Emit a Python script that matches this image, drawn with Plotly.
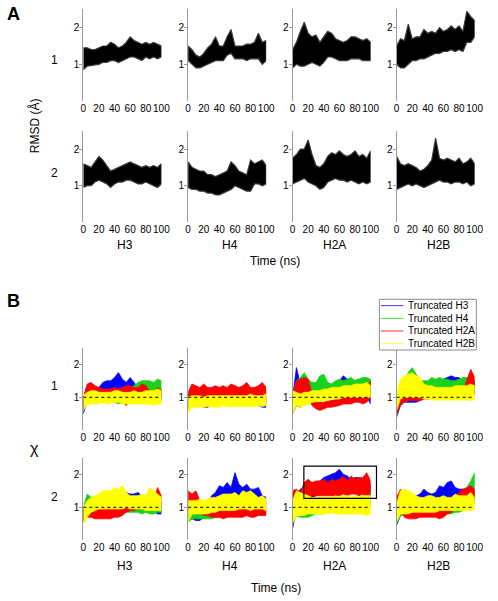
import plotly.graph_objects as go

# ---------------- data ----------------
TIME = [0, 5, 10, 15, 20, 25, 30, 35, 40, 45, 50, 55, 60, 65, 70, 75, 80, 85, 90, 95, 100]
HISTONES = ["H3", "H4", "H2A", "H2B"]
ROW_NAMES = ["1", "2"]
SERIES_NAMES = ["Truncated H3", "Truncated H4", "Truncated H2A", "Truncated H2B"]
X_TICKS = [0, 20, 40, 60, 80, 100]
Y_TICKS = [1, 2]
REF_LEVEL = 1.0
HIGHLIGHT_BOX = [14.5, 107.5, 1.27, 2.25]   # x0, x1, y0, y1 (H2A, row 2, panel B)

# Panel A : RMSD envelopes (low / high)
A1_H3_LO = [0.85, 0.95, 0.95, 0.98, 1.0, 1.05, 1.05, 1.1, 1.1, 1.05, 1.1, 1.15, 1.2, 1.2, 1.15, 1.1, 1.2, 1.15, 1.2, 1.15, 1.2]
A1_H3_HI = [1.45, 1.45, 1.4, 1.4, 1.45, 1.5, 1.5, 1.6, 1.55, 1.45, 1.5, 1.6, 1.75, 1.65, 1.6, 1.55, 1.6, 1.55, 1.6, 1.55, 1.5]
A1_H4_LO = [1.1, 1.0, 0.9, 0.9, 0.95, 1.0, 1.05, 1.1, 1.1, 1.1, 1.25, 1.3, 1.15, 1.15, 1.15, 1.1, 1.15, 1.15, 1.15, 1.0, 1.1]
A1_H4_HI = [1.5, 1.4, 1.25, 1.2, 1.3, 1.45, 1.55, 1.75, 1.5, 1.5, 1.75, 1.95, 1.5, 1.5, 1.5, 1.55, 1.55, 1.6, 1.85, 1.6, 1.65]
A1_H2A_LO = [0.9, 1.0, 0.95, 0.95, 1.0, 1.05, 1.0, 0.95, 1.05, 1.2, 1.2, 1.15, 1.1, 1.1, 1.1, 1.15, 1.15, 1.15, 1.1, 1.1, 1.1]
A1_H2A_HI = [1.4, 1.6, 1.9, 2.15, 1.85, 1.75, 1.8, 1.6, 1.75, 1.9, 1.85, 1.7, 1.65, 1.6, 1.65, 1.75, 1.75, 1.7, 1.65, 1.7, 1.6]
A1_H2B_LO = [1.0, 0.9, 0.9, 1.0, 1.1, 1.1, 1.15, 1.15, 1.2, 1.25, 1.3, 1.3, 1.35, 1.35, 1.4, 1.35, 1.4, 1.35, 1.6, 1.6, 1.75]
A1_H2B_HI = [1.5, 1.7, 1.65, 2.1, 1.7, 1.75, 1.75, 1.95, 1.85, 1.9, 1.85, 2.0, 1.9, 1.95, 2.05, 1.95, 2.05, 1.9, 2.45, 2.3, 2.2]
A2_H3_LO = [0.95, 1.0, 1.0, 1.1, 1.15, 1.1, 1.05, 0.95, 1.05, 1.1, 1.1, 1.15, 1.15, 1.1, 1.05, 1.05, 1.1, 1.05, 1.0, 0.95, 1.05]
A2_H3_HI = [1.6, 1.55, 1.5, 1.65, 1.8, 1.7, 1.55, 1.4, 1.45, 1.5, 1.55, 1.6, 1.65, 1.6, 1.55, 1.5, 1.55, 1.5, 1.55, 1.5, 1.6]
A2_H4_LO = [0.95, 0.9, 0.9, 0.85, 0.85, 0.8, 0.8, 0.75, 0.75, 0.8, 0.85, 0.9, 1.0, 0.95, 0.9, 0.85, 0.85, 1.05, 1.05, 1.0, 1.05]
A2_H4_HI = [1.65, 1.5, 1.45, 1.4, 1.4, 1.3, 1.3, 1.25, 1.3, 1.35, 1.4, 1.65, 1.55, 1.4, 1.35, 1.3, 1.7, 1.6, 1.65, 1.7, 1.55]
A2_H2A_LO = [1.05, 1.1, 1.15, 1.2, 1.1, 1.05, 1.0, 0.9, 0.95, 1.1, 1.15, 1.2, 1.15, 1.15, 1.1, 1.15, 1.1, 1.05, 1.1, 1.05, 1.1]
A2_H2A_HI = [1.75, 1.85, 2.0, 2.0, 2.25, 1.85, 1.55, 1.5, 1.6, 1.8, 1.9, 1.85, 1.95, 1.85, 1.8, 1.85, 1.95, 1.8, 1.85, 1.75, 1.95]
A2_H2B_LO = [0.9, 0.95, 1.0, 1.05, 1.0, 1.05, 1.0, 0.95, 1.0, 1.05, 1.1, 1.15, 1.1, 1.1, 1.05, 1.1, 1.1, 1.05, 1.1, 1.0, 1.05]
A2_H2B_HI = [1.8, 1.6, 1.55, 1.6, 1.55, 1.5, 1.4, 1.45, 1.55, 1.7, 2.3, 1.75, 1.7, 1.75, 1.7, 1.65, 1.75, 1.6, 1.65, 1.75, 1.6]

# Panel B : chi envelopes, row 1
B1_H3_BLUE_LO = [0.5, 0.9, 1.0, 1.05, 1.1, 1.15, 1.2, 1.2, 1.2, 1.25, 1.2, 1.15, 1.1, 1.05, 1.05, 1.0, 1.0, 1.0, 0.95, 0.95, 1.0]
B1_H3_BLUE_HI = [0.9, 1.25, 1.3, 1.3, 1.3, 1.45, 1.5, 1.5, 1.6, 1.75, 1.55, 1.45, 1.6, 1.45, 1.3, 1.25, 1.25, 1.2, 1.2, 1.2, 1.25]
B1_H3_GREEN_LO = [0.7, 0.85, 0.9, 0.85, 0.85, 0.85, 0.85, 0.9, 0.85, 0.8, 0.85, 0.9, 0.95, 1.0, 1.1, 1.15, 1.15, 1.15, 1.15, 1.1, 1.15]
B1_H3_GREEN_HI = [1.0, 1.3, 1.4, 1.2, 1.15, 1.15, 1.15, 1.2, 1.2, 1.15, 1.15, 1.2, 1.3, 1.35, 1.45, 1.5, 1.5, 1.5, 1.45, 1.55, 1.5]
B1_H3_RED_LO = [0.7, 0.95, 1.0, 1.0, 1.0, 1.05, 1.05, 1.0, 1.0, 0.95, 0.85, 0.75, 0.95, 1.0, 1.0, 1.0, 1.0, 0.9, 0.9, 0.85, 0.9]
B1_H3_RED_HI = [1.0, 1.4, 1.45, 1.35, 1.3, 1.25, 1.25, 1.25, 1.3, 1.25, 1.3, 1.35, 1.35, 1.3, 1.3, 1.4, 1.35, 1.2, 1.15, 1.3, 1.2]
B1_H3_YELLOW_LO = [0.6, 0.8, 0.8, 0.8, 0.8, 0.85, 0.8, 0.82, 0.85, 0.85, 0.8, 0.8, 0.82, 0.8, 0.8, 0.8, 0.8, 0.8, 0.75, 0.8, 0.8]
B1_H3_YELLOW_HI = [1.05, 1.15, 1.2, 1.2, 1.15, 1.15, 1.15, 1.15, 1.2, 1.2, 1.15, 1.15, 1.15, 1.2, 1.15, 1.15, 1.2, 1.2, 1.2, 1.25, 1.2]

B1_H4_BLUE_LO = [0.65, 0.75, 0.75, 0.75, 0.7, 0.7, 0.75, 0.8, 0.8, 0.8, 0.8, 0.8, 0.8, 0.8, 0.8, 0.8, 0.75, 0.75, 0.75, 0.7, 0.7]
B1_H4_BLUE_HI = [1.0, 1.1, 1.1, 1.1, 1.05, 1.0, 1.0, 1.0, 1.0, 1.05, 1.05, 1.05, 1.05, 1.05, 1.05, 1.05, 1.05, 1.1, 1.1, 1.0, 1.0]
B1_H4_GREEN_LO = [0.7, 0.85, 0.85, 0.85, 0.8, 0.8, 0.8, 0.8, 0.8, 0.8, 0.8, 0.8, 0.8, 0.8, 0.85, 0.8, 0.8, 0.8, 0.75, 0.8, 0.8]
B1_H4_GREEN_HI = [1.1, 1.4, 1.3, 1.2, 1.2, 1.2, 1.2, 1.2, 1.2, 1.2, 1.2, 1.2, 1.2, 1.2, 1.25, 1.2, 1.2, 1.25, 1.3, 1.2, 1.2]
B1_H4_RED_LO = [0.85, 0.95, 0.95, 0.95, 0.95, 0.95, 0.95, 0.95, 0.95, 0.95, 0.95, 0.95, 0.95, 0.95, 0.95, 0.95, 0.95, 0.95, 0.95, 0.95, 0.95]
B1_H4_RED_HI = [1.15, 1.4, 1.35, 1.3, 1.4, 1.3, 1.3, 1.35, 1.3, 1.35, 1.3, 1.4, 1.35, 1.3, 1.35, 1.45, 1.3, 1.3, 1.35, 1.45, 1.3]
B1_H4_YELLOW_LO = [0.55, 0.7, 0.72, 0.7, 0.7, 0.72, 0.72, 0.7, 0.7, 0.75, 0.72, 0.7, 0.72, 0.72, 0.7, 0.72, 0.72, 0.72, 0.75, 0.72, 0.75]
B1_H4_YELLOW_HI = [1.0, 1.05, 1.05, 1.05, 1.0, 1.05, 1.05, 1.05, 1.05, 1.05, 1.05, 1.05, 1.05, 1.05, 1.05, 1.05, 1.1, 1.05, 1.05, 1.05, 1.1]

B1_H2A_BLUE_LO = [0.5, 0.75, 0.7, 0.8, 0.9, 0.95, 1.0, 1.0, 1.0, 1.05, 1.05, 1.05, 1.05, 1.1, 1.1, 1.1, 1.05, 1.05, 1.05, 1.0, 0.8]
B1_H2A_BLUE_HI = [1.0, 1.9, 1.4, 1.45, 1.45, 1.4, 1.3, 1.35, 1.35, 1.4, 1.4, 1.45, 1.5, 1.65, 1.55, 1.5, 1.5, 1.55, 1.5, 1.55, 1.5]
B1_H2A_GREEN_LO = [0.6, 0.85, 0.9, 1.0, 1.0, 1.0, 1.05, 1.05, 1.05, 1.1, 1.1, 1.1, 1.1, 1.15, 1.15, 1.15, 1.15, 1.1, 1.1, 1.1, 1.1]
B1_H2A_GREEN_HI = [1.1, 1.5, 1.6, 1.75, 1.55, 1.45, 1.45, 1.65, 1.7, 1.45, 1.4, 1.5, 1.55, 1.5, 1.55, 1.6, 1.5, 1.55, 1.6, 1.6, 1.55]
B1_H2A_RED_LO = [0.7, 1.05, 1.0, 1.0, 1.0, 0.75, 0.65, 0.6, 0.65, 0.7, 0.7, 0.72, 0.75, 0.8, 0.8, 0.8, 0.85, 0.85, 0.8, 0.85, 1.0]
B1_H2A_RED_HI = [1.1, 1.5, 1.55, 1.6, 1.55, 1.1, 0.85, 0.85, 0.85, 0.88, 0.9, 0.92, 0.95, 1.0, 1.0, 1.0, 1.0, 1.05, 1.1, 1.2, 1.5]
B1_H2A_YELLOW_LO = [0.5, 0.75, 0.7, 0.75, 0.8, 0.85, 0.85, 0.88, 0.9, 0.92, 0.95, 0.95, 0.95, 1.0, 1.0, 1.0, 1.0, 1.0, 1.0, 1.0, 1.0]
B1_H2A_YELLOW_HI = [1.2, 1.15, 1.1, 1.15, 1.15, 1.2, 1.2, 1.2, 1.25, 1.25, 1.3, 1.3, 1.3, 1.35, 1.35, 1.35, 1.4, 1.4, 1.4, 1.45, 1.35]

B1_H2B_BLUE_LO = [0.4, 0.75, 0.85, 0.85, 0.85, 0.85, 0.9, 0.95, 1.0, 1.05, 1.1, 1.15, 1.2, 1.2, 1.2, 1.2, 1.2, 1.15, 1.1, 1.1, 1.1]
B1_H2B_BLUE_HI = [0.8, 1.2, 1.15, 1.1, 1.1, 1.05, 1.1, 1.35, 1.45, 1.45, 1.5, 1.5, 1.55, 1.6, 1.65, 1.6, 1.6, 1.5, 1.5, 1.5, 1.45]
B1_H2B_GREEN_LO = [0.5, 0.8, 0.85, 0.9, 0.95, 1.0, 1.05, 1.1, 1.1, 1.1, 1.15, 1.15, 1.15, 1.15, 1.15, 1.15, 1.15, 1.15, 1.2, 1.2, 1.2]
B1_H2B_GREEN_HI = [0.9, 1.3, 1.5, 1.75, 1.9, 1.7, 1.5, 1.5, 1.5, 1.6, 1.55, 1.6, 1.55, 1.55, 1.5, 1.5, 1.55, 1.6, 1.6, 1.55, 1.5]
B1_H2B_RED_LO = [0.45, 0.8, 0.85, 0.9, 0.9, 0.9, 0.9, 0.95, 0.95, 0.95, 0.95, 0.95, 0.95, 0.95, 0.95, 0.95, 0.95, 1.0, 1.05, 1.1, 1.1]
B1_H2B_RED_HI = [0.9, 1.2, 1.2, 1.2, 1.2, 1.2, 1.2, 1.1, 1.1, 1.1, 1.1, 1.1, 1.1, 1.1, 1.15, 1.15, 1.15, 1.2, 1.5, 1.85, 1.6]
B1_H2B_YELLOW_LO = [0.6, 0.95, 1.0, 1.0, 1.0, 1.0, 1.0, 0.95, 0.95, 0.92, 0.92, 0.92, 0.92, 0.92, 0.92, 0.92, 0.9, 0.92, 0.92, 0.9, 0.95]
B1_H2B_YELLOW_HI = [1.1, 1.55, 1.65, 1.7, 1.75, 1.65, 1.6, 1.4, 1.35, 1.35, 1.3, 1.3, 1.3, 1.3, 1.3, 1.35, 1.35, 1.35, 1.35, 1.4, 1.35]

# Panel B : chi envelopes, row 2
B2_H3_BLUE_LO = [0.6, 0.8, 0.85, 0.9, 0.9, 0.9, 0.95, 0.95, 1.0, 1.0, 1.05, 1.1, 1.1, 1.1, 1.05, 1.05, 1.0, 0.95, 0.9, 0.8, 0.8]
B2_H3_BLUE_HI = [1.0, 1.2, 1.2, 1.2, 1.2, 1.25, 1.25, 1.25, 1.3, 1.3, 1.35, 1.45, 1.4, 1.4, 1.45, 1.35, 1.3, 1.25, 1.25, 1.2, 1.15]
B2_H3_GREEN_LO = [0.55, 0.8, 0.8, 0.8, 0.8, 0.8, 0.8, 0.85, 0.85, 0.85, 0.85, 0.85, 0.85, 0.85, 0.85, 0.8, 0.85, 0.8, 0.8, 0.85, 0.85]
B2_H3_GREEN_HI = [1.0, 1.4, 1.3, 1.2, 1.15, 1.1, 1.1, 1.05, 1.05, 1.05, 1.05, 1.1, 1.0, 1.0, 1.0, 1.0, 1.0, 1.0, 1.0, 1.0, 1.0]
B2_H3_RED_LO = [0.6, 0.7, 0.7, 0.65, 0.65, 0.65, 0.65, 0.65, 0.7, 0.7, 0.75, 0.85, 0.9, 0.9, 0.95, 0.95, 0.95, 0.95, 0.95, 0.95, 1.0]
B2_H3_RED_HI = [0.95, 1.0, 0.95, 0.95, 0.95, 0.95, 0.95, 0.95, 0.95, 0.95, 1.0, 1.15, 1.15, 1.15, 1.1, 1.15, 1.15, 1.1, 1.15, 1.6, 1.35]
B2_H3_YELLOW_LO = [0.5, 0.7, 0.85, 0.9, 0.95, 0.95, 0.95, 0.95, 0.95, 0.95, 0.95, 1.0, 0.95, 0.95, 0.95, 0.95, 0.9, 0.9, 0.9, 0.9, 0.9]
B2_H3_YELLOW_HI = [1.0, 1.2, 1.3, 1.35, 1.4, 1.5, 1.5, 1.5, 1.6, 1.55, 1.65, 1.45, 1.35, 1.35, 1.35, 1.4, 1.35, 1.6, 1.5, 1.4, 1.3]

B2_H4_BLUE_LO = [0.6, 0.65, 0.6, 0.6, 0.7, 0.85, 1.0, 1.1, 1.1, 1.15, 1.15, 1.15, 1.1, 1.15, 1.1, 1.15, 1.1, 1.05, 1.1, 1.0, 1.0]
B2_H4_BLUE_HI = [1.0, 1.0, 0.9, 0.9, 1.05, 1.15, 1.35, 1.45, 1.65, 1.6, 1.75, 1.6, 2.05, 1.7, 1.6, 1.7, 1.55, 1.55, 1.6, 1.35, 1.3]
B2_H4_GREEN_LO = [0.55, 0.65, 0.65, 0.65, 0.65, 0.65, 0.65, 0.7, 0.7, 0.7, 0.7, 0.75, 0.75, 0.75, 0.75, 0.75, 0.8, 0.8, 0.8, 0.8, 0.8]
B2_H4_GREEN_HI = [1.0, 1.0, 1.0, 1.0, 1.0, 1.0, 0.95, 0.95, 0.95, 0.95, 0.95, 0.95, 0.95, 0.95, 0.95, 0.95, 1.0, 1.0, 1.0, 1.0, 1.0]
B2_H4_RED_LO = [0.9, 1.0, 1.0, 0.85, 0.75, 0.75, 0.7, 0.7, 0.7, 0.65, 0.7, 0.7, 0.7, 0.7, 0.7, 0.75, 0.7, 0.7, 0.75, 0.75, 0.75]
B2_H4_RED_HI = [1.5, 1.4, 1.5, 1.2, 1.0, 0.95, 0.95, 0.95, 0.9, 0.95, 0.95, 0.95, 0.95, 0.95, 1.0, 1.0, 1.0, 1.0, 1.0, 1.0, 1.0]
B2_H4_YELLOW_LO = [0.55, 0.8, 0.8, 0.8, 0.8, 0.8, 0.85, 0.85, 0.9, 0.9, 0.9, 0.9, 0.9, 0.95, 0.95, 0.95, 0.9, 0.95, 0.95, 0.95, 0.9]
B2_H4_YELLOW_HI = [1.2, 1.2, 1.2, 1.25, 1.2, 1.25, 1.3, 1.3, 1.35, 1.4, 1.4, 1.4, 1.45, 1.35, 1.5, 1.45, 1.5, 1.4, 1.3, 1.35, 1.25]

B2_H2A_BLUE_LO = [0.35, 0.9, 1.0, 1.1, 1.2, 1.3, 1.35, 1.4, 1.45, 1.45, 1.45, 1.5, 1.5, 1.45, 1.45, 1.45, 1.45, 1.45, 1.45, 1.4, 1.45]
B2_H2A_BLUE_HI = [1.0, 1.4, 1.55, 1.6, 1.7, 1.75, 1.75, 1.8, 1.9, 1.95, 2.0, 2.05, 2.15, 2.0, 1.95, 1.85, 1.9, 1.9, 1.85, 1.8, 1.7]
B2_H2A_GREEN_LO = [0.5, 0.75, 0.7, 0.7, 0.7, 0.75, 0.8, 0.8, 0.8, 0.85, 0.85, 0.85, 0.85, 0.9, 0.9, 0.9, 0.9, 0.95, 0.95, 1.0, 1.0]
B2_H2A_GREEN_HI = [1.0, 1.2, 1.2, 1.15, 1.15, 1.15, 1.15, 1.15, 1.2, 1.2, 1.2, 1.2, 1.2, 1.25, 1.25, 1.25, 1.3, 1.3, 1.35, 1.55, 1.5]
B2_H2A_RED_LO = [0.7, 1.0, 1.1, 1.25, 1.3, 1.35, 1.35, 1.35, 1.35, 1.35, 1.35, 1.35, 1.35, 1.4, 1.35, 1.4, 1.4, 1.35, 1.4, 1.35, 1.4]
B2_H2A_RED_HI = [1.5, 1.55, 1.45, 1.75, 1.85, 1.75, 1.8, 1.8, 1.85, 1.75, 1.85, 1.8, 1.85, 1.95, 1.8, 1.95, 1.85, 1.9, 1.9, 2.05, 1.8]
B2_H2A_YELLOW_LO = [0.5, 0.75, 0.75, 0.75, 0.8, 0.8, 0.8, 0.8, 0.8, 0.8, 0.85, 0.8, 0.8, 0.8, 0.8, 0.8, 0.8, 0.8, 0.8, 0.75, 0.8]
B2_H2A_YELLOW_HI = [1.2, 1.5, 1.45, 1.4, 1.35, 1.3, 1.3, 1.3, 1.3, 1.3, 1.3, 1.35, 1.3, 1.35, 1.35, 1.3, 1.35, 1.3, 1.35, 1.35, 1.35]

B2_H2B_BLUE_LO = [0.45, 0.75, 0.85, 0.9, 0.95, 1.0, 1.05, 1.1, 1.1, 1.1, 1.15, 1.2, 1.2, 1.2, 1.2, 1.2, 1.2, 1.2, 1.25, 1.3, 1.3]
B2_H2B_BLUE_HI = [0.9, 1.1, 1.15, 1.2, 1.25, 1.35, 1.4, 1.55, 1.45, 1.4, 1.45, 1.65, 1.6, 1.75, 1.8, 1.6, 1.55, 1.55, 1.5, 1.5, 1.45]
B2_H2B_GREEN_LO = [0.5, 0.75, 0.75, 0.75, 0.75, 0.75, 0.75, 0.75, 0.75, 0.75, 0.75, 0.75, 0.75, 0.8, 0.8, 0.85, 0.85, 0.9, 0.95, 1.0, 1.1]
B2_H2B_GREEN_HI = [1.0, 1.1, 1.1, 1.1, 1.1, 1.1, 1.1, 1.1, 1.1, 1.1, 1.1, 1.1, 1.1, 1.1, 1.15, 1.2, 1.3, 1.4, 1.6, 1.8, 2.05]
B2_H2B_RED_LO = [0.6, 0.9, 0.7, 0.65, 0.65, 0.65, 0.7, 0.7, 0.7, 0.7, 0.7, 0.65, 0.7, 0.8, 0.85, 0.95, 1.05, 1.15, 1.2, 1.2, 1.2]
B2_H2B_RED_HI = [1.3, 1.55, 1.4, 1.1, 1.05, 1.0, 1.0, 1.0, 1.0, 1.05, 1.0, 1.0, 1.05, 1.1, 1.15, 1.3, 1.45, 1.55, 1.6, 1.65, 1.55]
B2_H2B_YELLOW_LO = [0.55, 0.8, 0.8, 0.8, 0.85, 0.85, 0.85, 0.85, 0.85, 0.85, 0.85, 0.9, 0.9, 0.9, 0.9, 0.9, 0.9, 0.9, 0.9, 0.9, 0.95]
B2_H2B_YELLOW_HI = [1.1, 1.5, 1.55, 1.5, 1.45, 1.35, 1.3, 1.3, 1.35, 1.35, 1.3, 1.3, 1.35, 1.3, 1.3, 1.4, 1.35, 1.35, 1.35, 1.45, 1.3]

# ---------------- layout geometry (pixels) ----------------
W, H = 498, 601
FONT = "Liberation Sans, Arial, Helvetica, sans-serif"
COL_X0 = [82.3, 189.7, 296.7, 403.3]
COL_W = 80.0
ROW_PX = {"A1": (9.4, 100.9), "A2": (130.7, 222.4), "B1": (347.8, 430.3), "B2": (457.8, 540.3)}
COLORS = {"BLUE": "#0000ff", "GREEN": "#19d219", "RED": "#ff0000", "YELLOW": "#ffff00"}
LEGEND_COLORS = {"BLUE": "#3a3aff", "GREEN": "#40e040", "RED": "#ff3030", "YELLOW": "#ffff40"}
COLOR_ORDER = ["BLUE", "GREEN", "RED", "YELLOW"]
LEGEND_BOX = (385.7, 299.3, 485.0, 350.0)   # left, top, right, bottom (px)

g = globals()


def px_x(p):
    return p / W


def px_y(p):
    return 1 - p / H


fig = go.Figure()
layout = dict(
    width=W, height=H, margin=dict(l=0, r=0, t=0, b=0),
    paper_bgcolor="white", plot_bgcolor="white",
    font=dict(family=FONT, size=10, color="black"),
    showlegend=False,
)
shapes = []
annotations = []

panel_rows = ["A1", "A2", "B1", "B2"]
k = 0
axis_of = {}
for rkey in panel_rows:
    top, bot = ROW_PX[rkey]
    for ci, hist in enumerate(HISTONES):
        k += 1
        sfx = "" if k == 1 else str(k)
        axis_of[(rkey, hist)] = ("x" + sfx, "y" + sfx)
        x0 = COL_X0[ci]
        layout["xaxis" + sfx] = dict(
            domain=[px_x(x0), px_x(x0 + COL_W)], anchor="y" + sfx, range=[0, 100],
            tickvals=X_TICKS, tickangle=0, showline=False, showgrid=False, zeroline=False,
            ticks="", tickfont=dict(size=10, family=FONT, color="black"),
            fixedrange=True,
        )
        layout["yaxis" + sfx] = dict(
            domain=[px_y(bot), px_y(top)], anchor="x" + sfx, range=[0, 2.5],
            tickvals=Y_TICKS, showline=True, linecolor="#9a9a9a", linewidth=1,
            ticks="outside", ticklen=3, tickcolor="#9a9a9a", tickwidth=1,
            showgrid=False, zeroline=False,
            tickfont=dict(size=10, family=FONT, color="black"),
            ticklabelstandoff=-2, fixedrange=True,
        )


def band(xa, ya, lo, hi, color, edge, lw=0.8):
    fig.add_trace(go.Scatter(
        x=TIME + TIME[::-1], y=hi + lo[::-1], mode="lines", fill="toself",
        fillcolor=color, line=dict(color=edge, width=lw), xaxis=xa, yaxis=ya,
        showlegend=False, hoverinfo="skip",
    ))


# Panel A (black RMSD)
for rkey in ["A1", "A2"]:
    for hist in HISTONES:
        xa, ya = axis_of[(rkey, hist)]
        band(xa, ya, g[f"{rkey}_{hist}_LO"], g[f"{rkey}_{hist}_HI"], "black", "#3c3c3c", 1.2)

# Panel B (coloured chi)
for rkey in ["B1", "B2"]:
    for hist in HISTONES:
        xa, ya = axis_of[(rkey, hist)]
        for cname in COLOR_ORDER:
            band(xa, ya, g[f"{rkey}_{hist}_{cname}_LO"], g[f"{rkey}_{hist}_{cname}_HI"],
                 COLORS[cname], COLORS[cname])
        shapes.append(dict(type="line", xref=xa, yref=ya, x0=0, x1=100,
                           y0=REF_LEVEL, y1=REF_LEVEL, layer="above",
                           line=dict(color="black", width=1, dash="dot")))

# Legend (drawn as a boxed key)
lx0, ly0, lx1, ly1 = LEGEND_BOX
shapes.append(dict(type="rect", xref="paper", yref="paper",
                   x0=px_x(lx0), x1=px_x(lx1), y0=px_y(ly1), y1=px_y(ly0),
                   line=dict(color="#8a8a8a", width=1), fillcolor="white", layer="above"))
step = (ly1 - ly0) / len(SERIES_NAMES)
for i, (name, cname) in enumerate(zip(SERIES_NAMES, COLOR_ORDER)):
    yy = ly0 + step * (i + 0.5)
    shapes.append(dict(type="line", xref="paper", yref="paper",
                       x0=px_x(lx0 + 1.5), x1=px_x(lx0 + 24.5), y0=px_y(yy), y1=px_y(yy),
                       line=dict(color=LEGEND_COLORS[cname], width=1), layer="above"))
    annotations.append(dict(x=px_x(lx0 + 27), y=px_y(yy), xref="paper", yref="paper",
                            text=name, showarrow=False, xanchor="left", yanchor="middle",
                            font=dict(size=10, family=FONT, color="black")))

# Highlight box on H2A row 2 (panel B)
bx0, bx1, by0, by1 = HIGHLIGHT_BOX
top, bot = ROW_PX["B2"]
c0 = COL_X0[2]
shapes.append(dict(
    type="rect", xref="paper", yref="paper",
    x0=px_x(c0 + bx0 / 100 * COL_W), x1=px_x(c0 + bx1 / 100 * COL_W),
    y0=px_y(bot - by0 / 2.5 * (bot - top)), y1=px_y(bot - by1 / 2.5 * (bot - top)),
    line=dict(color="black", width=1.2), fillcolor="rgba(0,0,0,0)", layer="above",
))


def text(x, y, s, size=12, bold=False, angle=0):
    annotations.append(dict(
        x=px_x(x), y=px_y(y), xref="paper", yref="paper", text=("<b>%s</b>" % s) if bold else s,
        showarrow=False, xanchor="center", yanchor="middle", textangle=angle,
        font=dict(size=size, family=FONT, color="black"),
    ))


text(11, 14, "A", size=18, bold=True)
text(11, 301, "B", size=18, bold=True)
for rkey, ys in (("A", (60, 172.7)), ("B", (386, 496.7))):
    for name, yy in zip(ROW_NAMES, ys):
        text(53, yy, name, size=12)
text(32, 126, "RMSD (Å)", size=12, angle=-90)
text(32, 448, "χ", size=16)
for ci, hist in enumerate(HISTONES):
    text(COL_X0[ci] + 43, 245, hist, size=12)
    text(COL_X0[ci] + 43, 565.7, hist, size=12)
text(279, 260.7, "Time (ns)", size=12)
text(280, 588.3, "Time (ns)", size=12)

layout["shapes"] = shapes
layout["annotations"] = annotations
fig.update_layout(**layout)
fig.write_html("out.html", config={"displayModeBar": False},
               post_script="document.body.style.margin='0';document.body.style.overflow='hidden';")
